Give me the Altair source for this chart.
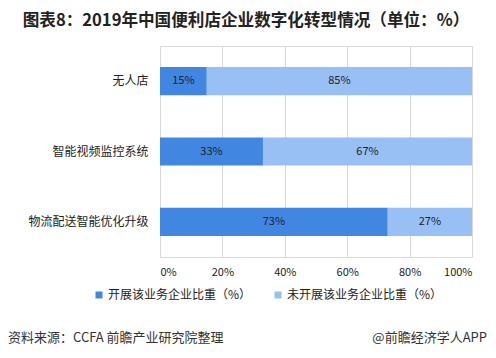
import altair as alt
import pandas as pd

categories = ["无人店", "智能视频监控系统", "物流配送智能优化升级"]
series = ["开展该业务企业比重（%）", "未开展该业务企业比重（%）"]
adopted = [15, 33, 73]
not_adopted = [85, 67, 27]
x_ticks = [0, 20, 40, 60, 80, 100]
colors = ["#4186E0", "#99C0F4"]

title_text = "图表8：2019年中国便利店企业数字化转型情况（单位：%）"
source_text = "资料来源：CCFA 前瞻产业研究院整理"
brand_text = "@前瞻经济学人APP"

FONT = "Noto Sans CJK SC"

rows = []
for c, a, n in zip(categories, adopted, not_adopted):
    rows.append({"cat": c, "series": series[0], "idx": 0, "value": a})
    rows.append({"cat": c, "series": series[1], "idx": 1, "value": n})
df = pd.DataFrame(rows)

base = alt.Chart(df).transform_stack(
    stack="value", groupby=["cat"], as_=["v0", "v1"], sort=[alt.SortField("idx")]
).transform_calculate(mid="(datum.v0 + datum.v1) / 2", label="datum.value + '%'")

y_enc = alt.Y(
    "cat:N",
    sort=categories,
    title=None,
    scale=alt.Scale(paddingInner=0.6, paddingOuter=0.3),
    axis=alt.Axis(domain=False, ticks=False, grid=False, labelFontSize=12,
                  labelColor="#222222", labelPadding=12, labelFont=FONT),
)

bars = base.mark_bar().encode(
    x=alt.X("v0:Q", title=None,
            scale=alt.Scale(domain=[0, 100], nice=False),
            axis=alt.Axis(values=x_ticks, labelExpr="datum.value + '%'", grid=True,
                          gridColor="#d9d9d9", domain=False, ticks=False,
                          labelFontSize=11, labelColor="#222222", labelPadding=9,
                          labelFont=FONT)),
    x2="v1:Q",
    y=y_enc,
    color=alt.Color("series:N", sort=series,
                    scale=alt.Scale(domain=series, range=colors),
                    legend=alt.Legend(title=None, orient="none", legendX=-67, legendY=243,
                                      direction="horizontal", symbolType="square",
                                      symbolSize=49, symbolStrokeWidth=0,
                                      labelFontSize=12, labelFont=FONT, labelColor="#222222",
                                      labelOffset=3, columnPadding=20)),
)

labels = base.mark_text(fontSize=11, font=FONT, color="#222222").encode(
    x=alt.X("mid:Q"),
    y=alt.Y("cat:N", sort=categories),
    text="label:N",
)

title = alt.Chart(pd.DataFrame({"t": [title_text]})).mark_text(
    fontSize=16.6, fontWeight="bold", font=FONT, color="#222222", align="center", baseline="middle"
).encode(text="t:N", x=alt.value(86), y=alt.value(-25))

src = alt.Chart(pd.DataFrame({"t": [source_text]})).mark_text(
    fontSize=13, font=FONT, color="#333333", align="left", baseline="middle"
).encode(text="t:N", x=alt.value(-152), y=alt.value(292))

brand = alt.Chart(pd.DataFrame({"t": [brand_text]})).mark_text(
    fontSize=13, font=FONT, color="#333333", align="right", baseline="middle"
).encode(text="t:N", x=alt.value(327), y=alt.value(292))

chart = alt.layer(bars, labels, title, src, brand).properties(
    width=312,
    height=211,
    autosize=alt.AutoSizeParams(type="none"),
    padding={"left": 152, "top": 38, "right": 16, "bottom": 93},
).configure_view(stroke=None).configure(font=FONT)

chart.save("out.html", embed_options={"renderer": "svg", "actions": False})
